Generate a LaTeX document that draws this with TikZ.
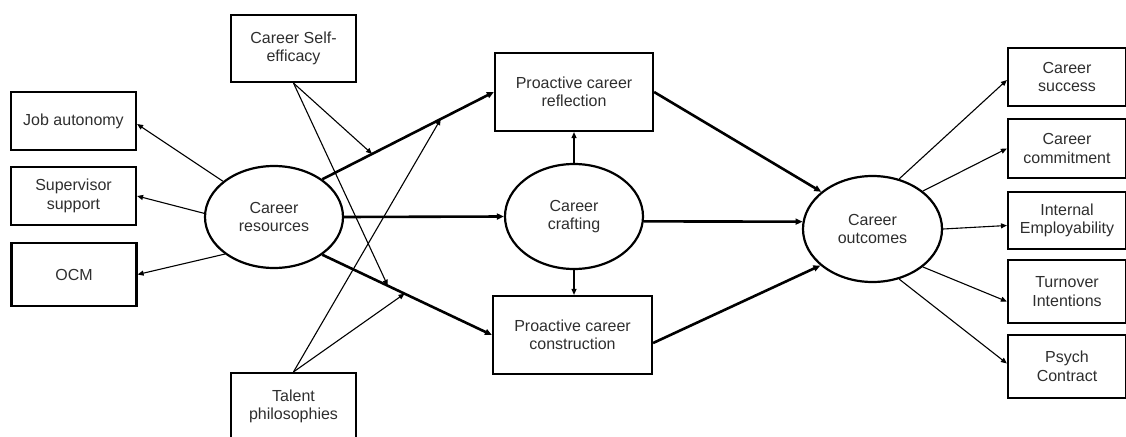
\documentclass[tikz,border=0pt]{standalone}
\usepackage{fontspec}
\setmainfont{Liberation Sans}
\usetikzlibrary{shapes.geometric,arrows.meta}
\tikzset{
  txt/.style={font=\fontsize{16}{18.5}\selectfont, text=black!82, align=center},
  bx/.style={draw, txt, line width=2.2pt, inner sep=0pt, minimum width=#1},
  bx/.default=125pt,
  el/.style={draw, ellipse, txt, line width=2.2pt, inner sep=0pt},
  thinarr/.style={line width=1.1pt, -{Triangle[length=6pt,width=5pt]}},
  mainarr/.style={line width=2.6pt, -{Triangle[length=7pt,width=6pt]}},
}
\begin{document}
\begin{tikzpicture}[x=1pt,y=-1pt]
\useasboundingbox (0,0) rectangle (1126,436);
% left boxes
\node[bx, minimum height=58pt] (ja) at (73.5,121) {Job autonomy};
\node[bx, minimum height=58pt] (ss) at (73.5,196) {Supervisor\\support};
\node[bx, minimum height=63pt] (ocm) at (74,274.5) {OCM};
% moderators
\node[bx, minimum height=67pt] (cse) at (293.5,48.5) {Career Self-\\efficacy};
\node[bx, minimum height=67pt] (tp) at (293.5,406.5) {Talent\\philosophies};
% middle boxes
\node[bx=158pt, minimum height=78pt] (pcr) at (574,92) {Proactive career\\reflection};
\node[bx=159pt, minimum height=78pt] (pcc) at (572.5,335) {Proactive career\\construction};
% ellipses
\node[el, minimum width=138pt, minimum height=102pt] (cr) at (274,217) {Career\\resources};
\node[el, minimum width=138pt, minimum height=105pt] (cc) at (574,216.5) {Career\\crafting};
\node[el, minimum width=139pt, minimum height=106pt] (co) at (872.5,229) {Career\\outcomes};
% right boxes
\node[bx=118pt, minimum height=58pt] (cs) at (1067,77) {Career\\success};
\node[bx=118pt, minimum height=59pt] (cm) at (1067,148.5) {Career\\commitment};
\node[bx=118pt, minimum height=57pt] (ie) at (1067,220.5) {Internal\\Employability};
\node[bx=118pt, minimum height=63pt] (ti) at (1067,291.5) {Turnover\\Intentions};
\node[bx=118pt, minimum height=63pt] (pc) at (1067,366.5) {Psych\\Contract};

% career resources indicators
\draw[thinarr] (cr.145) -- ([yshift=-3pt]ja.east);
\draw[thinarr] (cr.177) -- (ss.east);
\draw[thinarr] (cr.217) -- (ocm.east);

% main paths
\draw[mainarr] (cr.38) -- (pcr.west)
  coordinate[pos=0.29] (m1) coordinate[pos=0.69] (m2);
\draw[mainarr] (cr.east) -- (cc.west);
\draw[mainarr] (cr.-38) -- (pcc.west)
  coordinate[pos=0.386] (m3) coordinate[pos=0.485] (m4);
\draw[thinarr] (cc.north) -- (pcr.south);
\draw[thinarr] (cc.south) -- (cc.south |- pcc.north);
\draw[mainarr] (pcr.east) -- (co.144);
\draw[mainarr] (cc.-4.5) -- (co.174);
\draw[mainarr] ([yshift=-8pt]pcc.east) -- (co.215);

% moderators
\draw[thinarr] (cse.south) -- (m1);
\draw[thinarr] (cse.south) -- (m3);
\draw[thinarr] (tp.north) -- (m2);
\draw[thinarr] (tp.north) -- (m4);

% outcomes indicators
\draw[thinarr] (co.62) -- ([yshift=-3pt]cs.west);
\draw[thinarr] (co.37) -- (cm.west);
\draw[thinarr] (co.east) -- ([yshift=-5pt]ie.west);
\draw[thinarr] (co.-37) -- ([yshift=-10pt]ti.west);
\draw[thinarr] (co.-62) -- ([yshift=3pt]pc.west);
\end{tikzpicture}
\end{document}
